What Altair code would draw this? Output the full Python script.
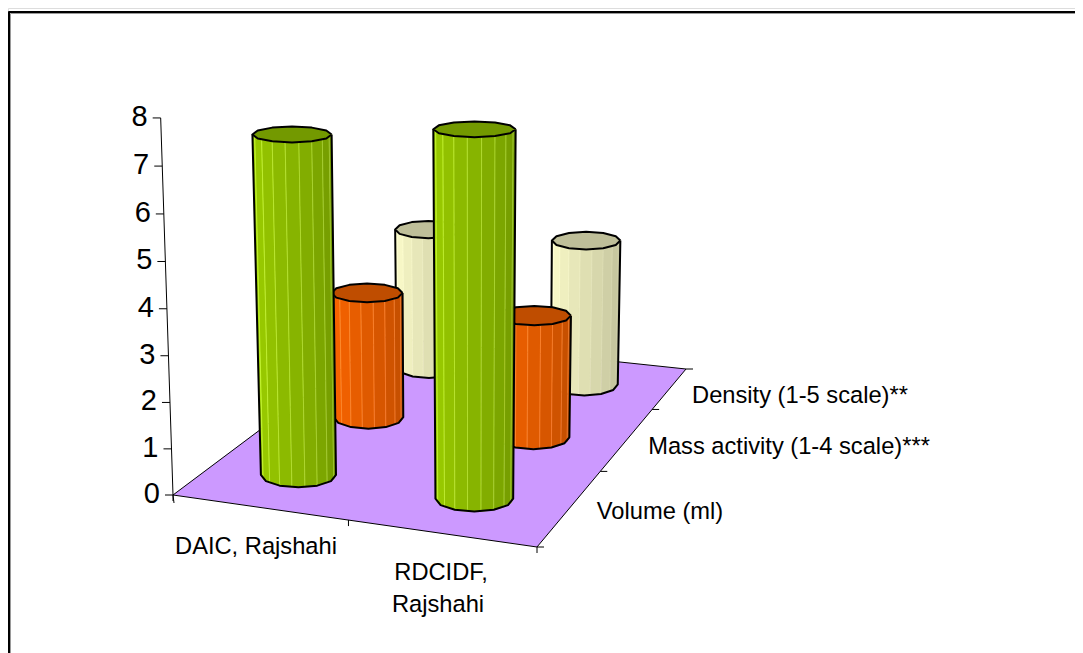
import math
import altair as alt
import pandas as pd

# ---- chart values ----
categories = ["DAIC, Rajshahi", "RDCIDF, Rajshahi"]
series = ["Volume (ml)", "Mass activity (1-4 scale)***", "Density (1-5 scale)**"]
volume = [7.4, 7.75]
mass = [2.95, 2.8]
density = [3.5, 3.55]
z_ticks = [0, 1, 2, 3, 4, 5, 6, 7, 8]
u_ticks = [0, 0.5, 1]
v_ticks = [0, 0.37, 0.73, 1]

# ---- colours: left-lit colour, right-shaded colour, top colour, seam lift ----
palette = {
    "Volume (ml)": ((0x9C, 0xCF, 0x00), (0x72, 0x98, 0x00), "#739900", 50),
    "Mass activity (1-4 scale)***": ((0xFF, 0x66, 0x00), (0xBF, 0x4D, 0x00), "#BF4D00", 45),
    "Density (1-5 scale)**": ((0xFF, 0xFF, 0xCC), (0xBF, 0xBF, 0x99), "#BFBF99", 12),
}

# ---- view: floor corners define a perspective projection ----
A, B, C, D = (173, 495), (537, 547), (686, 369), (384, 337)
W, H = 1067, 645
N_OUT = 12
N_FACET = 18
S_UNIT = 46
Z_BEND = 0.003
K_V = 1.1e-4
X_V = 470
RADIUS = 38.4


def homography():
    dx1, dx2, sx = B[0] - C[0], D[0] - C[0], A[0] - B[0] + C[0] - D[0]
    dy1, dy2, sy = B[1] - C[1], D[1] - C[1], A[1] - B[1] + C[1] - D[1]
    den = dx1 * dy2 - dx2 * dy1
    g = (sx * dy2 - dx2 * sy) / den
    h = (dx1 * sy - sx * dy1) / den
    return (B[0] - A[0] + g * B[0], D[0] - A[0] + h * D[0], A[0],
            B[1] - A[1] + g * B[1], D[1] - A[1] + h * D[1], A[1], g, h)


HM = homography()


def floor(u, v):
    a, b, c, d, e, f, g, h = HM
    w = g * u + h * v + 1
    return (a * u + b * v + c) / w, (d * u + e * v + f) / w, w


def rise(z, w):
    return S_UNIT * z / (1 - Z_BEND * z) / w


def upright(x, h):
    return x + (x - X_V) * K_V * h


def poly(name, pts, fill="transparent", stroke="#000000"):
    return [dict(p=name, o=i, x=x, y=y, fill=fill, stroke=stroke) for i, (x, y) in enumerate(pts)]


xs = alt.Scale(domain=[8, 8 + W], range=[0, W], nice=False, zero=False)
ys = alt.Scale(domain=[8 + H, 8], range=[H, 0], nice=False, zero=False)


def shape_layer(rows, width):
    return alt.Chart(pd.DataFrame(rows)).mark_line(
        strokeWidth=width, strokeJoin="round", interpolate="linear"
    ).encode(
        x=alt.X("x:Q", scale=xs, axis=None),
        y=alt.Y("y:Q", scale=ys, axis=None),
        order="o:Q",
        detail="p:N",
        fill=alt.Fill("fill:N", scale=None),
        stroke=alt.Stroke("stroke:N", scale=None),
    )


layers = []

# frame with its soft grey shadow, running off the page
layers.append(shape_layer(poly("shadow", [(10.5, 653), (10.5, 13.5), (1075, 13.5)], stroke="#9a9a9a"), 1))
layers.append(shape_layer(poly("frame", [(9, 653), (9, 12), (1075, 12)]), 2))

# floor
layers.append(shape_layer(poly("floor", [A, B, C, D, A], fill="#CC99FF"), 1))

# axes
ax_top = (upright(A[0], rise(8, 1)), A[1] - rise(8, 1))
layers.append(shape_layer(poly("zaxis", [A, (A[0] + 1, A[1] + 8)]) + poly("zaxis2", [A, ax_top]), 1))
tick_rows, label_rows = [], []
for z in z_ticks:
    hh = rise(z, 1)
    x0 = upright(A[0], hh)
    y0 = A[1] - hh
    tick_rows += poly(f"zt{z}", [(x0 - 8, y0), (x0, y0)])
    label_rows.append(dict(x=x0 - 13, y=y0 - 1, t=str(z)))
for u in u_ticks:
    x0, y0, _ = floor(u, 0)
    tick_rows += poly(f"ut{u}", [(x0, y0), (x0, y0 + 6)])
for v in v_ticks:
    x0, y0, _ = floor(1, v)
    tick_rows += poly(f"vt{v}", [(x0, y0), (x0 + 7, y0)])
layers.append(shape_layer(tick_rows, 1))

# cylinders, painted back to front
values = {series[0]: volume, series[1]: mass, series[2]: density}
v_pos = {series[0]: 1 / 6, series[1]: 1 / 2, series[2]: 5 / 6}
u_pos = [0.25, 0.75]


def cylinder(name, cat, val, sname):
    cx, cy, w = floor(u_pos[cat], v_pos[sname])
    h = rise(val, w)
    r = RADIUS / w
    rt = r * (1 + 1.6e-4 * h)
    tx = upright(cx, h)
    ty = cy - h
    ry_b = 0.33 * r
    ry_t = (0.30 - 0.1 * h / 340) * rt
    lit, dark, top, lift = palette[sname]

    def ring(count):
        bottom, upper = [], []
        for i in range(count // 2 + 1):
            t = math.pi - i * 2 * math.pi / count
            bottom.append((cx + r * math.cos(t), cy + ry_b * math.sin(t)))
            upper.append((tx + rt * math.cos(t), ty + ry_t * math.sin(t)))
        return bottom, upper

    bf, tf = ring(N_FACET)
    facets = []
    n_strips = N_FACET // 2
    for i in range(n_strips):
        f = i / (n_strips - 1)
        rgb = tuple(round(lit[k] + (dark[k] - lit[k]) * f) for k in range(3))
        col = "#%02X%02X%02X" % rgb
        seam = "#%02X%02X%02X" % tuple(min(255, c + lift) for c in rgb)
        facets += poly(f"{name}f{i}", [bf[i], bf[i + 1], tf[i + 1], tf[i], bf[i]], fill=col, stroke=seam)

    bo, to = ring(N_OUT)
    ell = []
    for i in range(N_OUT + 1):
        t = i * 2 * math.pi / N_OUT
        ell.append((tx + rt * math.cos(t), ty + ry_t * math.sin(t)))
    outline = poly(f"{name}s", [to[0]] + bo + [to[-1]])
    outline += poly(f"{name}t", ell, fill=top)
    return [shape_layer(facets, 0.7), shape_layer(outline, 2)]


for sname in [series[2], series[1], series[0]]:
    for cat in range(2):
        layers += cylinder(f"c{cat}{sname[:2]}", cat, values[sname][cat], sname)

# text
FONT = "Liberation Sans"
layers.append(alt.Chart(pd.DataFrame(label_rows)).mark_text(
    font=FONT, fontSize=29, align="right", baseline="middle", color="#000000"
).encode(x=alt.X("x:Q", scale=xs, axis=None), y=alt.Y("y:Q", scale=ys, axis=None), text="t:N"))

text_rows = [
    dict(x=256, y=547, t="DAIC, Rajshahi"),
    dict(x=441, y=573, t="RDCIDF,"),
    dict(x=438, y=605, t="Rajshahi"),
    dict(x=660, y=512, t=series[0]),
    dict(x=789, y=447, t=series[1]),
    dict(x=800, y=396, t=series[2]),
]
layers.append(alt.Chart(pd.DataFrame(text_rows)).mark_text(
    font=FONT, fontSize=23.7, align="center", baseline="middle", color="#000000"
).encode(x=alt.X("x:Q", scale=xs, axis=None), y=alt.Y("y:Q", scale=ys, axis=None), text="t:N"))

chart = alt.layer(*layers).properties(
    width=W, height=H, padding=0, autosize=alt.AutoSizeParams(type="none")
).configure_view(stroke=None).configure(background="#FFFFFF")

chart.save("out.html", embed_options={"renderer": "svg", "actions": False})
